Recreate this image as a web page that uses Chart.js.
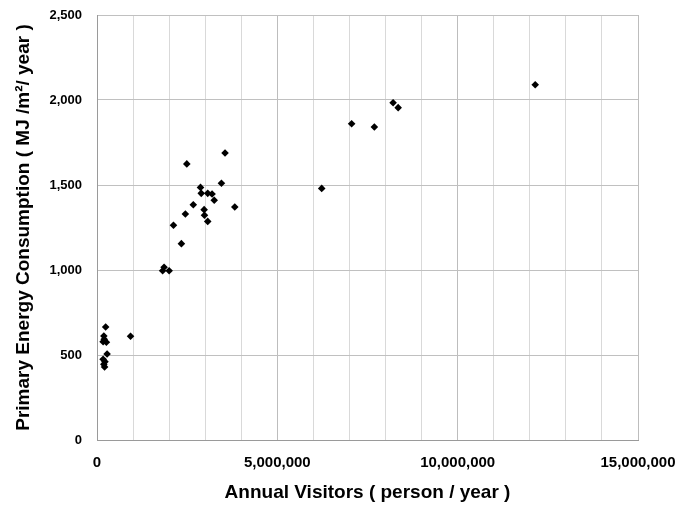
<!DOCTYPE html>
<html>
<head>
<meta charset="utf-8">
<script src="https://cdn.jsdelivr.net/npm/chart.js@4"></script>
<style>
  body { margin: 0; background: #fff; }
  #wrap { width: 698px; height: 507px; }
</style>
</head>
<body>
<div id="wrap"><canvas id="myChart" width="698" height="507"></canvas></div>
<script>
// annual visitors (person/year)
const visitors = [
    240000, 190000, 200000, 170000, 260000, 930000, 280000, 170000, 220000, 190000, 210000,
    1820000, 1860000, 2000000, 2340000, 2120000, 2450000, 2980000, 3070000, 2970000, 2670000,
    3820000, 3250000, 3190000, 3070000, 2890000, 3450000, 2870000, 2490000, 3550000,
    6230000, 7060000, 7690000, 8210000, 8350000, 12150000
];
// primary energy consumption (MJ/m2/year)
const energy = [
    665, 612, 592, 578, 575, 610, 506, 475, 461, 445, 430,
    996, 1016, 996, 1155, 1263, 1329, 1322, 1286, 1355, 1384,
    1371, 1410, 1447, 1451, 1451, 1510, 1486, 1624, 1688,
    1480, 1860, 1841, 1984, 1955, 2090
];

const xLabelSteps = [0, 5000000, 10000000, 15000000];

const points = visitors.map((v, i) => {
    return { x: v, y: energy[i] };
});

const ctx = document.getElementById('myChart').getContext('2d');
const myChart = new Chart(ctx, {
    type: 'scatter',
    data: {
        datasets: [{
            label: 'Facilities',
            data: points,
            pointStyle: 'rectRot',
            pointRadius: 3.8,
            pointHoverRadius: 3.8,
            backgroundColor: '#000000',
            borderColor: '#000000',
            borderWidth: 0
        }]
    },
    options: {
        responsive: false,
        animation: false,
        layout: {
            padding: { top: 15, right: 60, bottom: 0, left: 0 }
        },
        plugins: {
            legend: { display: false },
            tooltip: { enabled: false }
        },
        scales: {
            x: {
                type: 'linear',
                min: 0,
                max: 15000000,
                afterFit: function(scale) { scale.height = 67; },
                grid: {
                    drawTicks: false,
                    color: function(c) {
                        return xLabelSteps.includes(c.tick.value) ? '#bdbdbd' : '#d9d9d9';
                    },
                    lineWidth: 1
                },
                border: { color: '#9a9a9a', width: 1 },
                ticks: {
                    stepSize: 1000000,
                    autoSkip: false,
                    maxRotation: 0,
                    minRotation: 0,
                    padding: 14,
                    color: '#000',
                    font: { family: 'Liberation Sans', size: 15, weight: 'bold' },
                    callback: function(val) {
                        return xLabelSteps.includes(val) ? val.toLocaleString('en-US') : '';
                    }
                },
                title: {
                    display: true,
                    text: 'Annual Visitors ( person / year )',
                    color: '#000',
                    font: { family: 'Liberation Sans', size: 19, weight: 'bold' },
                    padding: { top: 3, bottom: 3 }
                }
            },
            y: {
                min: 0,
                max: 2500,
                afterFit: function(scale) {
                    scale.width = 97;
                    scale.paddingTop = 0;
                    scale.paddingBottom = 0;
                },
                grid: {
                    drawTicks: false,
                    color: '#c0c0c0',
                    lineWidth: 1
                },
                border: { color: '#9a9a9a', width: 1 },
                ticks: {
                    stepSize: 500,
                    padding: 15,
                    color: '#000',
                    font: { family: 'Liberation Sans', size: 13, weight: 'bold' },
                    callback: function(val) {
                        return val.toLocaleString('en-US');
                    }
                },
                title: {
                    display: true,
                    text: 'Primary Energy Consumption ( MJ /m²/ year )',
                    color: '#000',
                    font: { family: 'Liberation Sans', size: 19, weight: 'bold' },
                    padding: { top: 12, bottom: 12 }
                }
            }
        }
    }
});
</script>
</body>
</html>
